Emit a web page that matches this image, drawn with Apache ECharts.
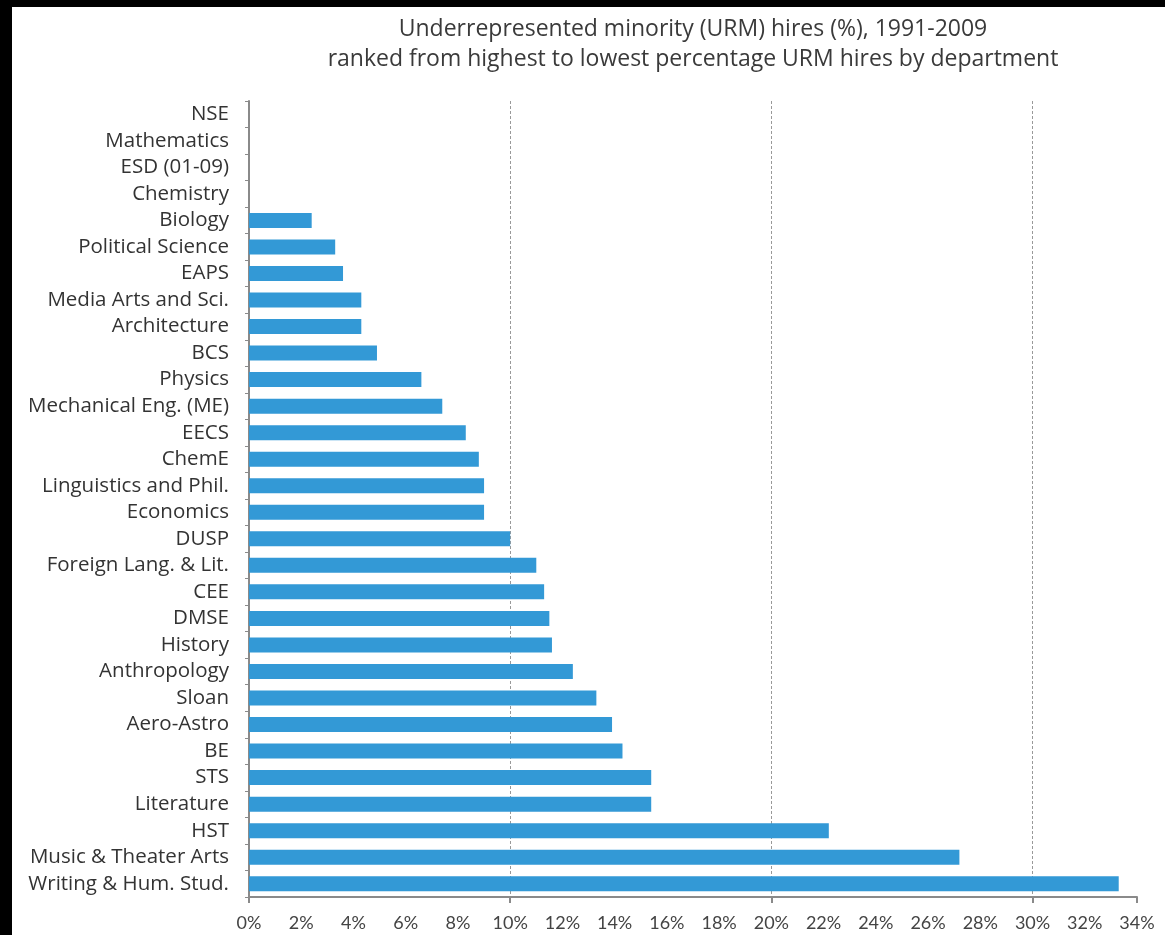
<!DOCTYPE html>
<html>
<head>
<meta charset="utf-8">
<script src="https://cdn.jsdelivr.net/npm/echarts@6/dist/echarts.min.js"></script>
<style>
  html, body { margin: 0; padding: 0; background: #000; }
  #chart { position: absolute; left: 12px; top: 7px; width: 1153px; height: 928px; background: #fff; }
</style>
</head>
<body>
<div id="chart"></div>
<script>
// departments, top to bottom as in the picture
var departments = [
  'NSE', 'Mathematics', 'ESD (01-09)', 'Chemistry', 'Biology',
  'Political Science', 'EAPS', 'Media Arts and Sci.', 'Architecture', 'BCS',
  'Physics', 'Mechanical Eng. (ME)', 'EECS', 'ChemE', 'Linguistics and Phil.',
  'Economics', 'DUSP', 'Foreign Lang. & Lit.', 'CEE', 'DMSE',
  'History', 'Anthropology', 'Sloan', 'Aero-Astro', 'BE',
  'STS', 'Literature', 'HST', 'Music & Theater Arts', 'Writing & Hum. Stud.'
]
// URM hires, percent
var urmHires = [
  0, 0, 0, 0, 2.4,
  3.3, 3.6, 4.3, 4.3, 4.9,
  6.6, 7.4, 8.3, 8.8, 9.0,
  9.0, 10.0, 11.0, 11.3, 11.5,
  11.6, 12.4, 13.3, 13.9, 14.3,
  15.4, 15.4, 22.2, 27.2, 33.3
]

var chart = echarts.init(document.getElementById('chart'))
var font = '"Open Sans", Lato, sans-serif'

chart.setOption({
  animation: false,
  title: {
    text: 'Underrepresented minority (URM) hires (%), 1991-2009\nranked from highest to lowest percentage URM hires by department',
    left: 676,
    top: 2,
    textAlign: 'center',
    textStyle: {
      fontFamily: font,
      fontSize: 23,
      fontWeight: 'normal',
      color: '#3a3a3a',
      lineHeight: 30
    }
  },
  grid: {
    left: 237,
    right: 28,
    top: 94,
    bottom: 38
  },
  xAxis: [{
    type: 'value',
    min: 0,
    max: 34,
    interval: 2,
    axisLine: { show: true, lineStyle: { color: '#8a8a8a', width: 2 } },
    axisTick: { show: false },
    splitLine: { show: false },
    axisLabel: {
      formatter: '{value}%',
      fontFamily: 'Lato, sans-serif',
      fontSize: 18,
      color: '#444',
      margin: 17
    }
  }, {
    type: 'value',
    position: 'bottom',
    min: 0,
    max: 34,
    interval: 10,
    axisLine: { show: false },
    axisTick: { show: true, length: 6, lineStyle: { color: '#8a8a8a', width: 2 } },
    axisLabel: { show: false },
    splitLine: {
      show: true,
      showMinLine: false,
      showMaxLine: false,
      lineStyle: { color: '#999', type: [3, 2], width: 1 }
    }
  }],
  yAxis: {
    type: 'category',
    inverse: true,
    data: departments,
    axisLine: { lineStyle: { color: '#8a8a8a', width: 2 } },
    axisTick: { show: true, interval: 0, length: 4, lineStyle: { color: '#8a8a8a' } },
    axisLabel: {
      interval: 0,
      fontFamily: font,
      fontSize: 20.5,
      color: '#333',
      margin: 20,
      padding: [0, 0, 6, 0]
    }
  },
  series: [{
    type: 'bar',
    data: urmHires,
    barWidth: 15,
    z: 3,
    itemStyle: { color: '#3399d6' }
  }]
})
</script>
</body>
</html>
